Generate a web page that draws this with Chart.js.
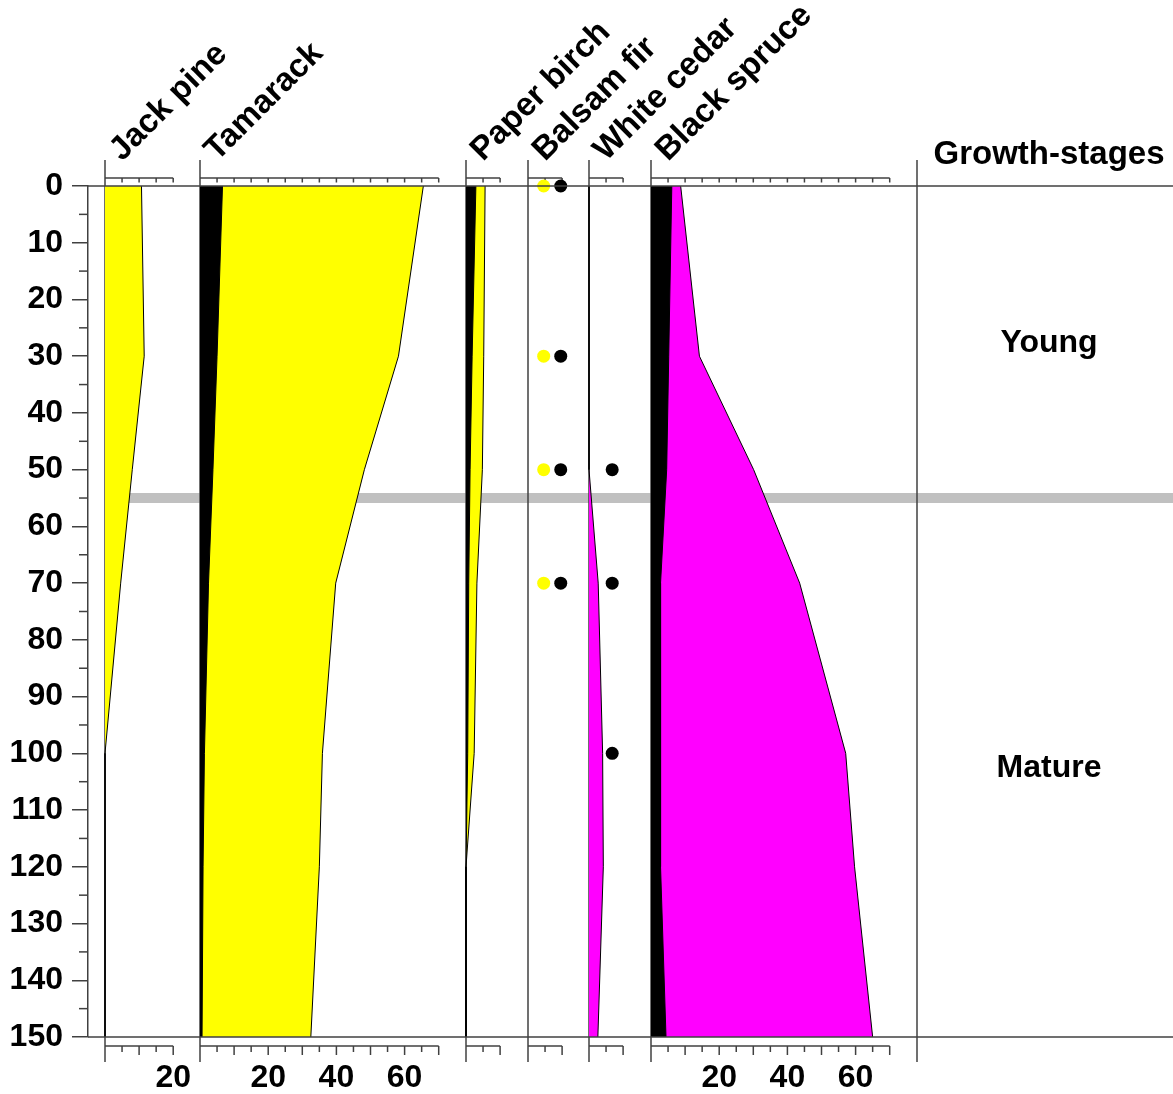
<!DOCTYPE html>
<html>
<head>
<meta charset="utf-8">
<script src="https://cdn.jsdelivr.net/npm/chart.js@4.4.1/dist/chart.umd.min.js"></script>
<style>
html, body { margin: 0; padding: 0; background: #ffffff; overflow: hidden; }
#wrap { width: 1173px; height: 1094px; position: relative; }
canvas { display: block; }
</style>
</head>
<body>
<div id="wrap"><canvas id="c" width="1173" height="1094"></canvas></div>
<script>
// ---------------- DATA ----------------
const depths = [0, 30, 50, 70, 100, 120, 150];
const jackPine = [10.7, 11.5, 8.0, 4.6, 0, 0, 0];
const tamarackTotal = [65.5, 58.2, 48.2, 39.8, 35.9, 35.0, 32.5];
const tamarackCore = [6.6, 5.0, 3.8, 2.5, 1.3, 0.9, 0.6];
const paperBirchTotal = [5.6, 5.2, 4.8, 3.2, 2.4, 0, 0];
const paperBirchCore = [2.9, 1.8, 1.2, 0.8, 0.5, 0, 0];
const balsamDepths = [0, 30, 50, 70];
const balsamFirYellow = [4.6, 4.6, 4.6, 4.6];
const balsamFirBlack = [9.6, 9.6, 9.6, 9.6];
const whiteCedarDotDepths = [50, 70, 100];
const whiteCedarDots = [6.8, 6.8, 6.8];
const whiteCedar = [0, 0, 0, 2.7, 4.0, 4.2, 2.6];
const blackSpruceCore = [6.1, 5.2, 4.6, 2.8, 2.8, 2.8, 4.4];
const blackSpruceTotal = [8.7, 14.2, 30.1, 43.6, 57.1, 59.7, 65.0];

const taxa = ['Jack pine', 'Tamarack', 'Paper birch', 'Balsam fir', 'White cedar', 'Black spruce'];
const taxonMax = [20, 70, 10, 10, 10, 70];
const taxonTickLabels = [[20], [20, 40, 60], [], [], [], [20, 40, 60]];
const stageHeader = 'Growth-stages';
const stageNames = ['Young', 'Mature'];
const stageBounds = [0, 55, 150];

// ---------------- LAYOUT ----------------
const AREA = { left: 88, right: 1173, top: 186, bottom: 1037 };
const PX_PER_UNIT = 3.41;
const panelLeft = [105, 200, 466, 528, 589, 651];
const stageColX = 917;
const stageTextX = 1049;
const FONT = "'Liberation Sans', Arial, Helvetica, sans-serif";
const LINE = '#404040';
const YELLOW = '#ffff00';
const MAGENTA = '#ff00ff';
const xIds = taxa.map((t, i) => 'x' + i);

function pts(vals, ds) { return vals.map((v, i) => ({ x: v, y: ds[i] })); }
function area(vals, axis, color, order) {
  return {
    type: 'line', data: pts(vals, depths), xAxisID: axis, yAxisID: 'y',
    fill: 'origin', backgroundColor: color, borderColor: '#000000', borderWidth: 1,
    pointRadius: 0, tension: 0, order: order
  };
}
function dots(vals, ds, axis, color) {
  return {
    type: 'scatter', data: pts(vals, ds), xAxisID: axis, yAxisID: 'y',
    showLine: false, pointRadius: 6.5, pointHoverRadius: 6.5, pointBorderWidth: 0,
    backgroundColor: color, pointBackgroundColor: color, order: 0, clip: false
  };
}

const datasets = [
  area(jackPine, 'x0', YELLOW, 2),
  area(tamarackTotal, 'x1', YELLOW, 2),
  area(tamarackCore, 'x1', '#000000', 1),
  area(paperBirchTotal, 'x2', YELLOW, 2),
  area(paperBirchCore, 'x2', '#000000', 1),
  dots(balsamFirYellow, balsamDepths, 'x3', YELLOW),
  dots(balsamFirBlack, balsamDepths, 'x3', '#000000'),
  area(whiteCedar, 'x4', MAGENTA, 2),
  dots(whiteCedarDots, whiteCedarDotDepths, 'x4', '#000000'),
  area(blackSpruceTotal, 'x5', MAGENTA, 2),
  area(blackSpruceCore, 'x5', '#000000', 1)
];

const scales = {
  y: {
    type: 'linear', position: 'left', reverse: true, min: 0, max: 150,
    afterFit: (s) => { s.width = AREA.left; },
    ticks: { stepSize: 10, padding: 9, color: '#000000', font: { family: FONT, size: 32, weight: 'bold' } },
    grid: { display: true, drawOnChartArea: false, drawTicks: true, tickLength: 16, color: LINE, tickColor: LINE, lineWidth: 1.5, tickWidth: 1.5 },
    border: { display: true, color: LINE, width: 1.5 }
  }
};
taxa.forEach((t, i) => {
  scales[xIds[i]] = {
    type: 'linear', display: false,
    min: -(panelLeft[i] - AREA.left) / PX_PER_UNIT,
    max: (AREA.right - panelLeft[i]) / PX_PER_UNIT
  };
});

function hline(ctx, x1, x2, y) { ctx.beginPath(); ctx.moveTo(x1, y); ctx.lineTo(x2, y); ctx.stroke(); }
function vline(ctx, x, y1, y2) { ctx.beginPath(); ctx.moveTo(x, y1); ctx.lineTo(x, y2); ctx.stroke(); }

const decor = {
  id: 'decor',
  beforeDatasetsDraw(chart) {
    const { ctx, chartArea: a, scales: sc } = chart;
    const ys = sc.y;
    ctx.save();
    // stage boundary band
    ctx.strokeStyle = '#c0c0c0';
    ctx.lineWidth = 10;
    hline(ctx, sc[xIds[0]].getPixelForValue(0), a.right, ys.getPixelForValue(stageBounds[1]));

    ctx.strokeStyle = LINE;
    ctx.lineWidth = 1.5;
    // minor ticks on depth axis
    for (let d = 5; d < 150; d += 10) {
      const py = ys.getPixelForValue(d);
      hline(ctx, a.left - 9, a.left, py);
    }
    // panel frames and scale bars
    taxa.forEach((t, i) => {
      const s = sc[xIds[i]];
      const x0 = s.getPixelForValue(0);
      const x1 = s.getPixelForValue(taxonMax[i]);
      vline(ctx, x0, a.top - 26, a.bottom + 25);
      const yt = a.top - 8, yb = a.bottom + 9;
      hline(ctx, x0, x1, yt);
      hline(ctx, x0, x1, yb);
      for (let v = 5; v <= taxonMax[i]; v += 5) {
        const px = s.getPixelForValue(v);
        vline(ctx, px, yt, yt + 4.5);
        vline(ctx, px, yb, yb + (v % 10 === 0 ? 9 : 6));
      }
    });
    vline(ctx, stageColX, a.top - 26, a.bottom + 25);
    ctx.restore();
  },
  afterDatasetsDraw(chart) {
    const { ctx, chartArea: a, scales: sc } = chart;
    const ys = sc.y;
    ctx.save();
    ctx.strokeStyle = LINE;
    ctx.lineWidth = 1.5;
    hline(ctx, a.left, a.right, ys.getPixelForValue(stageBounds[0]));
    hline(ctx, a.left, a.right, ys.getPixelForValue(stageBounds[2]));

    ctx.fillStyle = '#000000';
    // bottom tick labels
    ctx.font = 'bold 32px ' + FONT;
    ctx.textAlign = 'center';
    ctx.textBaseline = 'middle';
    taxa.forEach((t, i) => {
      const s = sc[xIds[i]];
      taxonTickLabels[i].forEach(v => ctx.fillText(String(v), s.getPixelForValue(v), a.bottom + 41));
    });
    // taxon names
    ctx.font = 'bold 33px ' + FONT;
    ctx.textAlign = 'left';
    ctx.textBaseline = 'alphabetic';
    taxa.forEach((t, i) => {
      const x0 = sc[xIds[i]].getPixelForValue(0);
      ctx.save();
      ctx.translate(x0 + 17, a.top - 24);
      ctx.rotate(-Math.PI / 4);
      ctx.fillText(t, 0, 0);
      ctx.restore();
    });
    // growth stages
    ctx.textAlign = 'center';
    ctx.textBaseline = 'middle';
    ctx.fillText(stageHeader, stageTextX, a.top - 31);
    ctx.font = 'bold 32px ' + FONT;
    stageNames.forEach((n, i) => {
      const mid = (stageBounds[i] + stageBounds[i + 1]) / 2;
      ctx.fillText(n, stageTextX, ys.getPixelForValue(mid) + 1);
    });
    ctx.restore();
  }
};

Chart.defaults.font.family = FONT;
new Chart(document.getElementById('c'), {
  type: 'line',
  data: { datasets: datasets },
  options: {
    indexAxis: 'y',
    responsive: false,
    maintainAspectRatio: false,
    devicePixelRatio: 1,
    animation: false,
    events: [],
    layout: { autoPadding: false, padding: { left: 0, right: 0, top: AREA.top, bottom: 1094 - AREA.bottom } },
    plugins: { legend: { display: false }, tooltip: { enabled: false }, title: { display: false } },
    scales: scales
  },
  plugins: [decor]
});
</script>
</body>
</html>
